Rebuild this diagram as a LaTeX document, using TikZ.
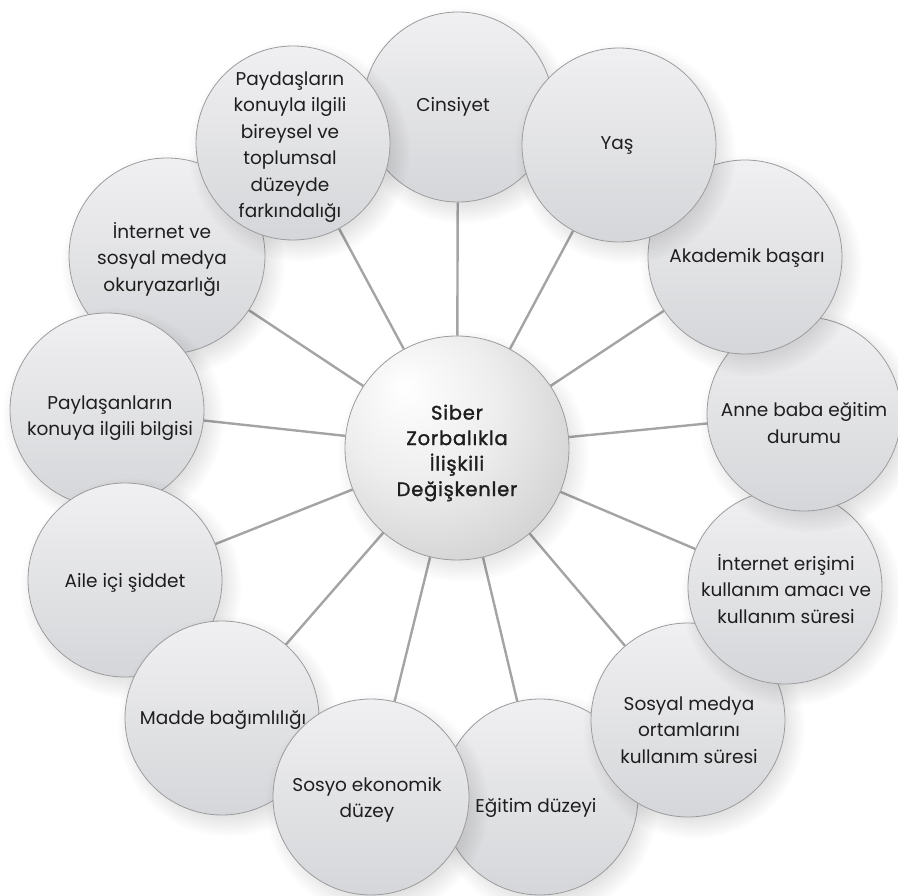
\documentclass[tikz,border=0pt]{standalone}
\usepackage{fontspec}
\setmainfont{Poppins}
\newfontfamily\centfont{Poppins}[LetterSpace=4,FakeBold=1.5]
\usetikzlibrary{fadings}
\definecolor{edgegray}{HTML}{9C9C9E}
\definecolor{conngray}{HTML}{A3A4A6}
\definecolor{topgray}{HTML}{F0F0F2}
\definecolor{botgray}{HTML}{D5D6D9}
\definecolor{txt}{HTML}{1E1E1E}
\pgfdeclarelayer{bg}
\pgfdeclarelayer{fg}
\pgfsetlayers{bg,main,fg}
\pgfdeclareradialshading{centshade}{\pgfpoint{-12bp}{14bp}}{%
  color(0bp)=(white);
  color(18bp)=(white!93!black);
  color(40bp)=(white!79!black);
  color(62bp)=(white!66!black)}
\pgfdeclareradialshading{shadowshade}{\pgfpointorigin}{%
  color(0bp)=(pgftransparent!0);
  color(14bp)=(pgftransparent!0);
  color(20bp)=(pgftransparent!45);
  color(25bp)=(pgftransparent!100);
  color(50bp)=(pgftransparent!100)}
\pgfdeclarefading{softshadow}{\pgfuseshading{shadowshade}}
\tikzset{
  outer/.style={circle, draw=edgegray, line width=0.8pt, inner sep=0pt,
    minimum size=194pt, top color=topgray, bottom color=botgray},
  central/.style={circle, draw=edgegray, line width=0.8pt, inner sep=0pt,
    minimum size=224pt, shading=centshade},
  shadowfill/.style={fill=black, opacity=0.2, path fading=softshadow, fit fading=true},
  conn/.style={draw=conngray, line width=2.4pt},
  label/.style={align=center, text=txt, inner sep=0pt,
    font=\fontsize{18.5}{26.5}\selectfont},
  clabel/.style={align=center, text=txt, inner sep=0pt,
    font=\centfont\fontsize{19.5}{25.5}\selectfont}
}
% #1 name, #2 x, #3 y, #4 radius, #5 style
\newcommand\shadedcircle[5]{%
  \fill[shadowfill] (#2+6,#3+8) circle[radius=#4+14];
  \node[#5, minimum size=2*#4] (#1) at (#2,#3) {};}
\begin{document}
\begin{tikzpicture}[x=1pt,y=-1pt]
\useasboundingbox (0,0) rectangle (898,896);
% circles, bottom to top
\shadedcircle{egit}{540}{797}{98}{outer}
\shadedcircle{sosm}{688}{720}{97}{outer}
\shadedcircle{iner}{785}{587}{97}{outer}
\shadedcircle{anne}{804}{414}{97}{outer}
\shadedcircle{akad}{745}{257}{97}{outer}
\shadedcircle{cins}{458}{107}{95}{outer}
\shadedcircle{yas}{619}{145}{97}{outer}
\shadedcircle{inve}{167}{256}{98}{outer}
\shadedcircle{payd}{293}{143}{97}{outer}
\shadedcircle{payl}{107}{410}{97}{outer}
\shadedcircle{aile}{125}{580}{97}{outer}
\shadedcircle{madde}{222}{718}{97}{outer}
\shadedcircle{sosy}{371}{797}{98}{outer}
\shadedcircle{cen}{457}{448}{112}{central}
% connectors
\begin{pgfonlayer}{bg}
\foreach \n in {cins,yas,akad,anne,iner,sosm,egit,sosy,madde,aile,payl,inve,payd}
  \draw[conn] (cen) -- (\n);
\end{pgfonlayer}
% texts
\begin{pgfonlayer}{fg}
\node[label] (tcins) at (453,107) {Cinsiyet};
\node[label] (tyas) at (617,145) {Yaş};
\node[label] (takad) at (747,258) {Akademik başarı};
\node[label] (tanne) at (804,423) {Anne baba eğitim\\durumu};
\node[label] (tiner) at (786,589) {İnternet erişimi\\kullanım amacı ve\\kullanım süresi};
\node[label] (tsosm) at (689,730) {Sosyal medya\\ortamlarını\\kullanım süresi};
\node[label] (tegit) at (536,808) {Eğitim düzeyi};
\node[label] (tsosy) at (367,800) {Sosyo ekonomik\\düzey};
\node[label] (tmadde) at (223,720) {Madde bağımlılığı};
\node[label] (taile) at (125,583) {Aile içi şiddet};
\node[label] (tpayl) at (110,418) {Paylaşanların\\konuya ilgili bilgisi};
\node[label] (tinve) at (162,259) {İnternet ve\\sosyal medya\\okuryazarlığı};
\node[label] (tpayd) at (290,147) {Paydaşların\\konuyla ilgili\\bireysel ve\\toplumsal\\düzeyde\\farkındalığı};
\node[clabel] (tcen) at (457,453) {Siber\\Zorbalıkla\\İlişkili\\Değişkenler};
\end{pgfonlayer}
\end{tikzpicture}
\end{document}
